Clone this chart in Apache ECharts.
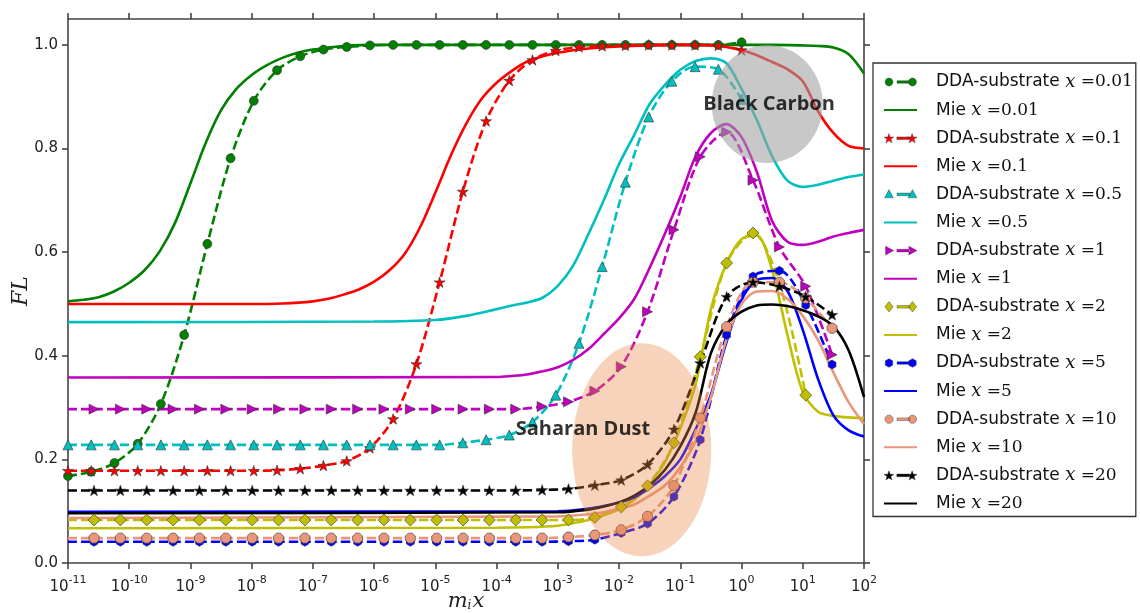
<!DOCTYPE html>
<html><head><meta charset="utf-8">
<script src="https://cdn.jsdelivr.net/npm/echarts@6/dist/echarts.min.js"></script>
<style>html,body{margin:0;padding:0;background:#fff}#c{width:1140px;height:613px}</style>
</head><body><div id="c"></div>
<script>
// ---------- DATA (x values are log10(m_i x)) ----------
const xTicks = [-11,-10,-9,-8,-7,-6,-5,-4,-3,-2,-1,0,1,2];
const yTicks = [0,0.2,0.4,0.6,0.8,1.0];
const sizeLabels = ['0.01','0.1','0.5','1','2','5','10','20'];

// DDA sample grids
const xDdaA = [-11.000,-10.621,-10.241,-9.862,-9.483,-9.103,-8.724,-8.345,-7.966,-7.586,-7.207,-6.828,-6.448,-6.069,-5.690,-5.310,-4.931,-4.552,-4.172,-3.793,-3.414,-3.034,-2.655,-2.276,-1.897,-1.517,-1.138,-0.759,-0.379,0.000];
const xDdaB = [-11.000,-10.575,-10.145,-9.714,-9.284,-8.853,-8.423,-7.992,-7.562,-7.131,-6.701,-6.270,-5.840,-5.409,-4.979,-4.548,-4.118,-3.687,-3.257,-2.826,-2.396,-1.965,-1.535,-1.104,-0.674,-0.243,0.187,0.618,1.048,1.479];

const ddaY001 = [0.168,0.176,0.193,0.230,0.307,0.440,0.616,0.781,0.892,0.951,0.978,0.991,0.996,0.999,1.000,1.000,1.000,1.000,1.000,1.000,1.000,1.000,1.000,1.000,1.000,1.000,1.000,1.000,1.000,1.005];
const ddaY01  = [0.178,0.178,0.178,0.178,0.178,0.178,0.178,0.178,0.178,0.179,0.182,0.188,0.197,0.222,0.278,0.384,0.542,0.717,0.853,0.931,0.971,0.989,0.996,0.998,0.999,1.000,1.000,1.000,0.999,0.990];
const ddaY05  = [0.228,0.228,0.228,0.228,0.228,0.228,0.228,0.228,0.228,0.228,0.228,0.228,0.228,0.228,0.228,0.228,0.228,0.232,0.238,0.247,0.272,0.324,0.424,0.572,0.735,0.861,0.930,0.958,0.953,0.895];
const ddaY1   = [0.297,0.297,0.297,0.297,0.297,0.297,0.297,0.297,0.297,0.297,0.297,0.297,0.297,0.297,0.297,0.297,0.297,0.297,0.302,0.311,0.332,0.379,0.485,0.643,0.784,0.832,0.739,0.610,0.534,0.402];
const ddaY2   = [0.083,0.083,0.083,0.083,0.083,0.083,0.083,0.083,0.083,0.083,0.083,0.083,0.083,0.083,0.083,0.083,0.083,0.083,0.083,0.083,0.088,0.108,0.149,0.232,0.398,0.579,0.637,0.540,0.324];
const ddaY5   = [0.041,0.041,0.041,0.041,0.041,0.041,0.041,0.041,0.041,0.041,0.041,0.041,0.041,0.041,0.041,0.041,0.041,0.041,0.041,0.042,0.045,0.058,0.076,0.128,0.238,0.440,0.553,0.564,0.498,0.383];
const ddaY10  = [0.048,0.048,0.048,0.048,0.048,0.048,0.048,0.048,0.048,0.048,0.048,0.048,0.048,0.048,0.048,0.048,0.048,0.048,0.048,0.050,0.054,0.064,0.090,0.149,0.280,0.456,0.542,0.542,0.511,0.453];
const ddaY20  = [0.140,0.140,0.140,0.140,0.140,0.140,0.140,0.140,0.140,0.140,0.140,0.140,0.140,0.140,0.140,0.140,0.140,0.140,0.141,0.143,0.150,0.160,0.190,0.258,0.386,0.514,0.542,0.534,0.514,0.479];

// Mie curves
const mieX001 = [-11,-10.75,-10.5,-10.25,-10,-9.75,-9.5,-9.25,-9,-8.75,-8.5,-8.25,-8,-7.75,-7.5,-7.25,-7,-6.75,-6.5,-6,-5,-3,-1,0,0.5,1,1.25,1.5,1.75,2];
const mieY001 = [0.505,0.508,0.513,0.524,0.541,0.565,0.602,0.657,0.733,0.811,0.874,0.915,0.942,0.961,0.975,0.985,0.991,0.995,0.998,1.0,1.0,1.0,1.0,1.0,1.0,0.999,0.998,0.995,0.982,0.945];
const mieX01 = [-11,-8,-7.5,-7,-6.75,-6.5,-6.25,-6,-5.75,-5.5,-5.25,-5,-4.75,-4.5,-4.25,-4,-3.75,-3.5,-3.25,-3,-2.5,-2,-1.5,-1,-0.5,-0.25,0,0.25,0.5,0.75,1,1.25,1.5,1.75,2];
const mieY01 = [0.5,0.5,0.501,0.505,0.51,0.518,0.528,0.543,0.565,0.597,0.648,0.715,0.786,0.847,0.895,0.927,0.95,0.968,0.978,0.985,0.993,0.997,0.999,1.0,0.999,0.996,0.99,0.98,0.967,0.953,0.93,0.872,0.83,0.805,0.80];
const mieX05 = [-11,-6,-5,-4.5,-4,-3.75,-3.5,-3.25,-3,-2.75,-2.5,-2.25,-2,-1.75,-1.5,-1.25,-1,-0.75,-0.5,-0.25,0,0.25,0.5,0.75,1,1.25,1.5,1.75,2];
const mieY05 = [0.465,0.466,0.469,0.477,0.49,0.497,0.503,0.512,0.535,0.574,0.635,0.70,0.77,0.827,0.886,0.923,0.952,0.969,0.974,0.965,0.915,0.855,0.785,0.738,0.726,0.73,0.738,0.745,0.75];
const mieX1 = [-11,-4,-3.75,-3.5,-3.25,-3,-2.75,-2.5,-2.25,-2,-1.75,-1.5,-1.25,-1,-0.75,-0.5,-0.25,0,0.25,0.5,0.75,1,1.25,1.5,1.75,2];
const mieY1 = [0.358,0.359,0.361,0.364,0.37,0.378,0.392,0.413,0.442,0.472,0.51,0.57,0.636,0.707,0.785,0.83,0.847,0.822,0.755,0.66,0.62,0.614,0.62,0.63,0.637,0.643];
const mieX2 = [-11,-4,-3.5,-3,-2.75,-2.5,-2.25,-2,-1.75,-1.5,-1.25,-1,-0.75,-0.5,-0.25,0,0.25,0.5,0.75,1,1.25,1.5,1.75,2];
const mieY2 = [0.067,0.068,0.069,0.072,0.077,0.083,0.092,0.104,0.122,0.152,0.195,0.26,0.345,0.49,0.577,0.625,0.632,0.565,0.44,0.33,0.292,0.284,0.281,0.28];
const mieX5 = [-11,-3,-2.5,-2.25,-2,-1.75,-1.5,-1.25,-1,-0.75,-0.5,-0.25,0,0.25,0.5,0.75,1,1.25,1.5,1.75,2];
const mieY5 = [0.099,0.1,0.105,0.11,0.117,0.127,0.145,0.168,0.2,0.258,0.325,0.425,0.508,0.546,0.55,0.525,0.45,0.355,0.285,0.256,0.244];
const mieX10 = [-11,-3,-2.5,-2.25,-2,-1.75,-1.5,-1.25,-1,-0.75,-0.5,-0.25,0,0.25,0.5,0.75,1,1.25,1.5,1.75,2];
const mieY10 = [0.087,0.09,0.094,0.098,0.105,0.113,0.13,0.15,0.185,0.235,0.32,0.43,0.5,0.524,0.525,0.51,0.477,0.43,0.368,0.31,0.268];
const mieX20 = [-11,-3,-2.5,-2.25,-2,-1.75,-1.5,-1.25,-1,-0.75,-0.5,-0.25,0,0.25,0.5,0.75,1,1.25,1.5,1.75,2];
const mieY20 = [0.096,0.098,0.103,0.109,0.117,0.13,0.15,0.18,0.225,0.29,0.405,0.46,0.485,0.497,0.499,0.496,0.488,0.476,0.457,0.41,0.32];

// Annotation regions (centres in data units)
const blackCarbonCentre = [0.42, 0.886];
const dustCentre = [-1.63, 0.2185];
const blackCarbonText = [0.45, 0.886];
const dustText = [-2.59, 0.259];

// ---------- STYLE ----------
const colors = ['#008000','#ff0000','#00bfbf','#bf00bf','#bfbf00','#0000ff','#e9967a','#000000'];
const STAR = 'path://M50,2 L61,36 L97,36 L68,57 L79,92 L50,71 L21,92 L32,57 L3,36 L39,36 Z';
const HEX = 'path://M50,0 L93,25 L93,75 L50,100 L7,75 L7,25 Z';
const OCT = 'path://M30,0 L70,0 L100,30 L100,70 L70,100 L30,100 L0,70 L0,30 Z';
const ELL = 'path://M50,0 C77.6,0 100,22.4 100,50 C100,77.6 77.6,100 50,100 C22.4,100 0,77.6 0,50 C0,22.4 22.4,0 50,0 Z';
const markers = [
  {symbol:'circle', size:9, rot:0, kind:'circle'},
  {symbol:STAR, size:11, rot:0, kind:'star'},
  {symbol:'triangle', size:10, rot:0, kind:'tri'},
  {symbol:'triangle', size:10, rot:-90, kind:'triR'},
  {symbol:'diamond', size:12, rot:0, kind:'diamond'},
  {symbol:HEX, size:9, rot:0, kind:'hex'},
  {symbol:OCT, size:10, rot:0, kind:'oct'},
  {symbol:STAR, size:11, rot:0, kind:'star'}
];

// legend icon: marker, dash, marker (drawn in a 33 x 12 box)
function poly(pts, cx, cy) {
  return 'M' + pts.map(p => (cx + p[0]).toFixed(2) + ',' + (cy + p[1]).toFixed(2)).join(' L') + ' Z ';
}
function markerPath(kind, cx, cy) {
  const pts = [];
  if (kind === 'circle') {
    const r = 4.0, k = 0.5523 * r;
    return 'M' + (cx) + ',' + (cy - r) + ' C' + (cx + k) + ',' + (cy - r) + ' ' + (cx + r) + ',' + (cy - k) + ' ' + (cx + r) + ',' + cy +
      ' C' + (cx + r) + ',' + (cy + k) + ' ' + (cx + k) + ',' + (cy + r) + ' ' + cx + ',' + (cy + r) +
      ' C' + (cx - k) + ',' + (cy + r) + ' ' + (cx - r) + ',' + (cy + k) + ' ' + (cx - r) + ',' + cy +
      ' C' + (cx - r) + ',' + (cy - k) + ' ' + (cx - k) + ',' + (cy - r) + ' ' + cx + ',' + (cy - r) + ' Z ';
  }
  if (kind === 'star') {
    for (let j = 0; j < 10; j++) {
      const a = -Math.PI / 2 + j * Math.PI / 5, r = j % 2 ? 2.1 : 5.2;
      pts.push([r * Math.cos(a), r * Math.sin(a) + 0.5]);
    }
  } else if (kind === 'tri') {
    pts.push([0, -4.8], [4.4, 3.4], [-4.4, 3.4]);
  } else if (kind === 'triR') {
    pts.push([4.8, 0], [-3.4, -4.4], [-3.4, 4.4]);
  } else if (kind === 'diamond') {
    pts.push([0, -5.2], [4.2, 0], [0, 5.2], [-4.2, 0]);
  } else {
    const n = kind === 'hex' ? 6 : 8, r = 4.3;
    for (let j = 0; j < n; j++) {
      const a = -Math.PI / 2 + (j + (n === 8 ? 0.5 : 0)) * 2 * Math.PI / n;
      pts.push([r * Math.cos(a), r * Math.sin(a)]);
    }
  }
  return poly(pts, cx, cy);
}
function legendIconFor(kind) {
  const pin = 'M0,0 L0.01,0 L0,0.01 Z M33,12 L32.99,12 L33,11.99 Z ';
  const dash = 'M13,4.7 L26,4.7 L26,7.3 L13,7.3 Z ';
  return 'path://' + pin + markerPath(kind, 5, 6) + dash + markerPath(kind, 28.5, 6);
}

const ddaX = [xDdaA,xDdaA,xDdaA,xDdaB,xDdaB,xDdaB,xDdaB,xDdaB];
const ddaY = [ddaY001,ddaY01,ddaY05,ddaY1,ddaY2,ddaY5,ddaY10,ddaY20];
const mieX = [mieX001,mieX01,mieX05,mieX1,mieX2,mieX5,mieX10,mieX20];
const mieY = [mieY001,mieY01,mieY05,mieY1,mieY2,mieY5,mieY10,mieY20];

const series = [];
const legendData = [];
sizeLabels.forEach((lab, i) => {
  const dn = 'DDA-substrate x=' + lab;
  const mn = 'Mie x=' + lab;
  legendData.push({name: dn, icon: legendIconFor(markers[i].kind), itemStyle: {color: colors[i], borderColor: '#333', borderWidth: 0.4}});
  legendData.push({name: mn, itemStyle: {color: 'rgba(0,0,0,0)', borderColor: 'rgba(0,0,0,0)', borderWidth: 0}});
  const gridB = ddaX[i] === xDdaB;
  series.push({
    name: dn, type: 'line', smooth: 0.3, z: 2,
    data: ddaY[i].map((y, k) => (gridB && k === 0) ? {value:[ddaX[i][k], y], symbol:'none'} : [ddaX[i][k], y]),
    symbol: markers[i].symbol, symbolSize: markers[i].size, symbolRotate: markers[i].rot, symbolKeepAspect: true,
    showAllSymbol: true,
    lineStyle: {color: colors[i], width: 2.6, type: [9, 4]},
    itemStyle: {color: colors[i], borderColor: '#333', borderWidth: 0.6},
    emphasis: {disabled: true}
  });
  series.push({
    name: mn, type: 'line', smooth: 0.3, z: 2,
    data: mieY[i].map((y, k) => [mieX[i][k], y]),
    symbol: 'none',
    lineStyle: {color: colors[i], width: 2.6},
    itemStyle: {color: colors[i]},
    emphasis: {disabled: true}
  });
});

// shaded regions
series.push({
  type: 'scatter', z: 5, silent: true, symbol: ELL, symbolSize: [111, 118],
  data: [blackCarbonCentre], itemStyle: {color: 'rgba(160,160,160,0.72)'}
});
series.push({
  type: 'scatter', z: 5, silent: true, symbol: ELL, symbolSize: [139, 213],
  data: [dustCentre], itemStyle: {color: 'rgba(233,133,67,0.45)'}
});
series.push({
  type: 'scatter', z: 6, silent: true, symbolSize: 0,
  data: [
    {value: blackCarbonText, label: {formatter: 'Black Carbon'}},
    {value: dustText, label: {formatter: 'Saharan Dust'}}
  ],
  label: {show: true, position: 'inside', color: '#000', fontFamily: 'Open Sans', fontWeight: 'bold', fontSize: 20}
});

const axisLineStyle = {color: '#444', width: 1.6};
const chart = echarts.init(document.getElementById('c'), null, {renderer: 'canvas'});
chart.setOption({
  animation: false,
  backgroundColor: '#fff',
  grid: {left: 68, right: 276, top: 19, bottom: 50, outerBoundsMode: 'none', containLabel: false},
  xAxis: [{
    type: 'value', min: -11, max: 2, interval: 1, position: 'bottom',
    splitLine: {show: false},
    axisLine: {show: true, onZero: false, lineStyle: axisLineStyle},
    axisTick: {show: true, length: 6, lineStyle: axisLineStyle},
    axisLabel: {
      margin: 12, color: '#222',
      formatter: v => '{b|10}{s|' + v + '}',
      rich: {
        b: {fontFamily: 'DejaVu Sans', fontSize: 15, color: '#222', verticalAlign: 'bottom', lineHeight: 20},
        s: {fontFamily: 'DejaVu Sans', fontSize: 11, color: '#222', verticalAlign: 'top', lineHeight: 12}
      }
    },
    name: '{m|m}{i|i}{x|x}', nameLocation: 'middle', nameGap: 28, nameMoveOverlap: false,
    nameTextStyle: {
      rich: {
        m: {fontFamily: 'DejaVu Serif', fontStyle: 'italic', fontSize: 21, color: '#222'},
        i: {fontFamily: 'DejaVu Serif', fontStyle: 'italic', fontSize: 12, color: '#222', verticalAlign: 'bottom', padding: [8,1,0,0]},
        x: {fontFamily: 'DejaVu Serif', fontStyle: 'italic', fontSize: 21, color: '#222'}
      }
    }
  }, {
    type: 'value', min: -11, max: 2, interval: 1, position: 'top',
    splitLine: {show: false},
    axisLine: {show: true, onZero: false, lineStyle: axisLineStyle},
    axisTick: {show: true, length: 6, lineStyle: axisLineStyle},
    axisLabel: {show: false}
  }],
  yAxis: [{
    type: 'value', min: 0, max: 1.05, position: 'left',
    splitLine: {show: false},
    axisLine: {show: true, onZero: false, lineStyle: axisLineStyle},
    axisTick: {show: true, length: 6, lineStyle: axisLineStyle, customValues: yTicks},
    axisLabel: {customValues: yTicks, formatter: v => v.toFixed(1), fontFamily: 'DejaVu Sans', fontSize: 15, color: '#222', margin: 10},
    name: 'FL', nameLocation: 'middle', nameGap: 36, nameMoveOverlap: false,
    nameTextStyle: {fontFamily: 'DejaVu Serif', fontStyle: 'italic', fontSize: 22, color: '#222'}
  }, {
    type: 'value', min: 0, max: 1.05, position: 'right',
    splitLine: {show: false},
    axisLine: {show: true, onZero: false, lineStyle: axisLineStyle},
    axisTick: {show: true, length: 6, lineStyle: axisLineStyle, customValues: yTicks},
    axisLabel: {show: false}
  }],
  legend: {
    data: legendData, orient: 'vertical', left: 873, top: 63,
    itemWidth: 33, itemHeight: 12, itemGap: 8.1,
    padding: [9, 3, 3, 10],
    borderColor: '#333', borderWidth: 1.3, backgroundColor: '#fff',
    selectedMode: false,
    formatter: name => {
      const parts = name.split(' x=');
      return '{t|' + parts[0] + ' }{i|x}{e| =' + parts[1] + '}';
    },
    textStyle: {
      padding: [0, 0, 0, 14], lineHeight: 20,
      rich: {
        t: {fontFamily: 'DejaVu Sans', fontSize: 17, color: '#111', lineHeight: 20},
        i: {fontFamily: 'DejaVu Serif', fontStyle: 'italic', fontSize: 18, color: '#111', lineHeight: 20},
        e: {fontFamily: 'DejaVu Serif', fontSize: 17, color: '#111', lineHeight: 20}
      }
    }
  },
  series: series
});
</script></body></html>
